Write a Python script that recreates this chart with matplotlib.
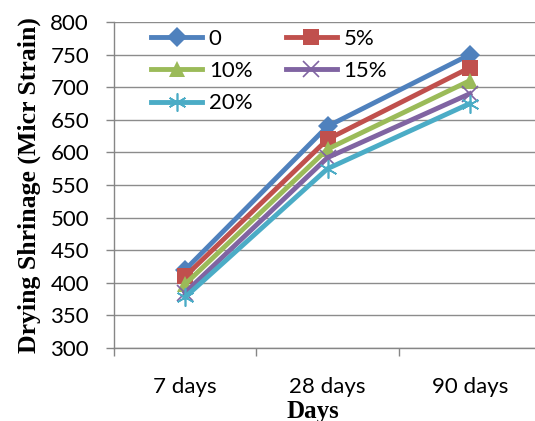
import matplotlib.pyplot as plt

days = ['7 days', '28 days', '90 days']
series = ['0', '5%', '10%', '15%', '20%']
shrink_0 = [420, 640, 750]
shrink_5 = [410, 620, 730]
shrink_10 = [398, 605, 710]
shrink_15 = [385, 592, 690]
shrink_20 = [378, 575, 675]

colors = ['#4F81BD', '#C0504D', '#9BBB59', '#8064A2', '#4BACC6']
markers = ['D', 's', '^', 'x', (6, 2, 0)]
msizes = [10, 11, 11, 11, 13]

fig = plt.figure(figsize=(5.35, 4.21), dpi=100)
ax = fig.add_axes([114 / 535, (421 - 348) / 421, 427 / 535, 326 / 421])

x = range(len(days))
lines = []
for vals, name, c, m, ms in zip([shrink_0, shrink_5, shrink_10, shrink_15, shrink_20],
                                 series, colors, markers, msizes):
    ln, = ax.plot(x, vals, color=c, lw=3.5, marker=m, ms=ms,
                  mew=1.2 if m in ('x', (6, 2, 0)) else 0,
                  mec=c, mfc=c, label=name, clip_on=False, zorder=3)
    lines.append(ln)

ax.set_xlim(-0.5, 2.5)
ax.set_ylim(300, 800)
ax.set_yticks(range(300, 801, 50))
ax.set_xticks([0, 1, 2])
ax.set_xticklabels(days)
ax.set_xticks([-0.5, 0.5, 1.5], minor=True)
ax.tick_params(axis='x', which='major', length=0, pad=21)
ax.tick_params(axis='x', which='minor', length=6, color='#868686', width=1)
ax.tick_params(axis='y', length=6, color='#868686', width=1, pad=12)
for lab in ax.get_xticklabels() + ax.get_yticklabels():
    lab.set_fontfamily('Lato')
    lab.set_fontsize(16)

ax.grid(axis='y', color='#8c8c8c', lw=1)
ax.set_axisbelow(True)
for s in ['top', 'right']:
    ax.spines[s].set_visible(False)
for s in ['left', 'bottom']:
    ax.spines[s].set_color('#868686')
    ax.spines[s].set_linewidth(1)

ax.set_xlabel('Days', fontfamily='Liberation Serif', fontweight='bold', fontsize=18)
ax.xaxis.set_label_coords(0.466, -0.158)
ax.set_ylabel('Drying Shrinage (Micr Strain)', fontfamily='Liberation Serif',
              fontweight='bold', fontsize=18.5, labelpad=7)

# row-major legend: 0, 5% / 10%, 15% / 20%
order = [0, 2, 4, 1, 3]
ax.legend([lines[i] for i in order], [series[i] for i in order], ncol=2,
          loc='upper left', bbox_to_anchor=(0.04, 1.04), frameon=False,
          prop={'family': 'Lato', 'size': 16}, handlelength=2.3, handletextpad=0.3,
          columnspacing=1.5, labelspacing=0.55)

fig.savefig('out.png', dpi=100)
